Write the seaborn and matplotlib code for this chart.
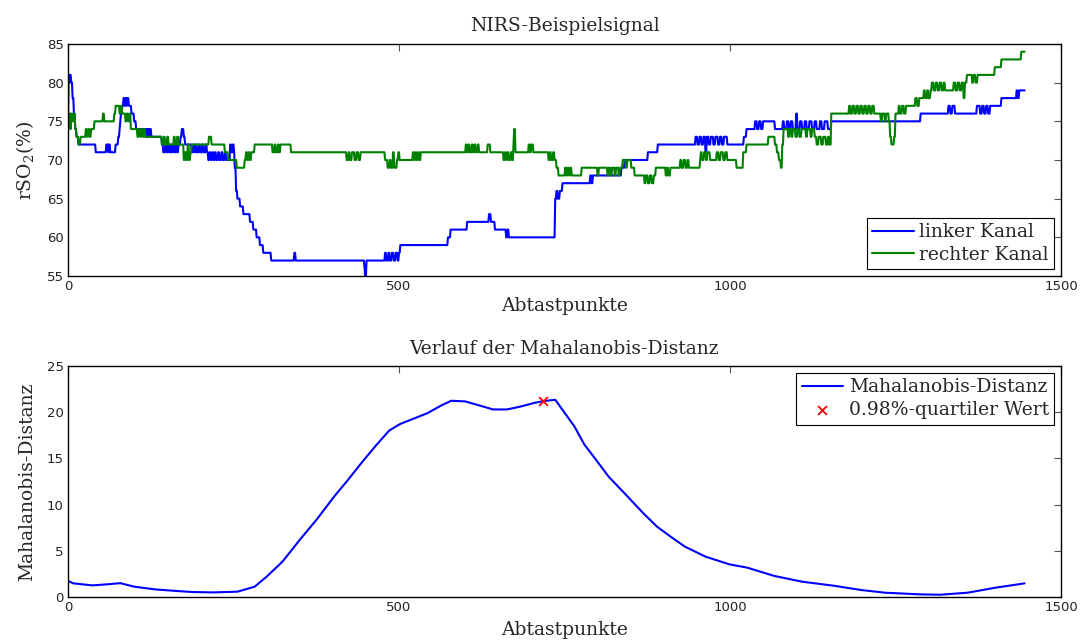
import numpy as np
import matplotlib
matplotlib.use('Agg')
import matplotlib.pyplot as plt
import seaborn as sns

# NIRS signal, read off the plot as runs: (first sample, rSO2 value),
# the value holds until the next run starts
n_samples = 1446

left_runs = [
    (0, 75), (1, 81), (2, 80), (3, 81), (5, 80), (7, 78), (9, 76), (11, 74), (13, 73), (16, 72),
    (42, 71), (58, 72), (61, 71), (62, 72), (64, 71), (72, 72), (76, 73), (78, 74), (79, 75), (80, 76),
    (82, 77), (84, 78), (86, 77), (87, 78), (89, 77), (90, 78), (92, 77), (96, 76), (100, 75), (103, 74),
    (117, 73), (118, 74), (120, 73), (121, 74), (123, 73), (124, 74), (126, 73), (142, 72), (144, 71),
    (147, 72), (149, 71), (151, 72), (153, 71), (155, 72), (157, 71), (159, 72), (161, 71), (163, 72),
    (165, 71), (167, 72), (170, 73), (172, 74), (175, 73), (177, 72), (187, 71), (189, 72), (191, 71),
    (193, 72), (195, 71), (198, 72), (200, 71), (203, 72), (205, 71), (208, 72), (210, 71), (212, 70),
    (214, 71), (216, 70), (218, 71), (220, 70), (222, 71), (224, 70), (227, 71), (229, 70), (232, 71),
    (234, 70), (237, 71), (239, 70), (245, 72), (247, 71), (249, 72), (251, 71), (252, 69), (254, 66),
    (256, 65), (260, 64), (265, 63), (275, 62), (280, 61), (285, 60), (290, 59), (295, 58), (307, 57),
    (342, 58), (344, 57), (448, 56), (449, 55), (451, 57), (479, 58), (481, 57), (484, 58), (486, 57),
    (489, 58), (492, 57), (495, 58), (498, 57), (500, 58), (502, 59), (574, 60), (578, 61), (603, 62),
    (636, 63), (639, 62), (645, 61), (662, 60), (664, 61), (666, 60), (736, 65), (738, 66), (740, 65),
    (743, 66), (747, 67), (789, 68), (791, 67), (793, 68), (836, 69), (841, 70), (876, 71), (891, 72),
    (948, 73), (951, 72), (954, 73), (957, 72), (960, 73), (963, 71), (965, 73), (968, 72), (971, 73),
    (975, 72), (978, 73), (982, 72), (985, 73), (988, 72), (991, 73), (996, 72), (1021, 73), (1025, 74),
    (1038, 75), (1041, 74), (1044, 75), (1047, 74), (1050, 75), (1068, 74), (1080, 75), (1082, 74),
    (1086, 75), (1089, 74), (1092, 75), (1095, 74), (1100, 76), (1102, 74), (1106, 75), (1109, 74),
    (1113, 75), (1116, 74), (1120, 75), (1124, 74), (1128, 75), (1131, 74), (1136, 75), (1139, 74),
    (1143, 75), (1148, 74), (1153, 75), (1288, 76), (1330, 77), (1333, 76), (1336, 77), (1340, 76),
    (1373, 77), (1378, 76), (1381, 77), (1384, 76), (1387, 77), (1390, 76), (1393, 77), (1410, 78),
    (1433, 79), (1435, 78), (1437, 79),
]

right_runs = [
    (0, 75), (1, 74), (2, 76), (4, 74), (5, 76), (7, 75), (9, 76), (11, 74), (13, 73), (16, 72),
    (19, 73), (27, 74), (29, 73), (31, 74), (33, 73), (35, 74), (40, 75), (53, 76), (55, 75), (70, 76),
    (72, 77), (78, 76), (80, 77), (82, 76), (87, 75), (89, 76), (91, 75), (93, 76), (95, 74), (105, 73),
    (107, 74), (109, 73), (111, 74), (113, 73), (115, 74), (117, 73), (142, 72), (145, 73), (147, 72),
    (150, 73), (152, 72), (160, 73), (162, 72), (165, 73), (167, 72), (175, 70), (177, 71), (179, 70),
    (181, 72), (183, 70), (185, 71), (187, 72), (213, 73), (217, 72), (237, 71), (242, 70), (255, 69),
    (267, 70), (269, 71), (271, 70), (273, 71), (275, 70), (277, 71), (282, 72), (309, 71), (312, 72),
    (314, 71), (317, 72), (319, 71), (321, 72), (337, 71), (421, 70), (424, 71), (426, 70), (429, 71),
    (433, 70), (436, 71), (439, 70), (442, 71), (479, 70), (483, 69), (486, 70), (488, 69), (491, 71),
    (493, 69), (497, 70), (499, 71), (501, 70), (521, 71), (523, 70), (525, 71), (527, 70), (529, 71),
    (531, 70), (533, 71), (601, 72), (603, 71), (605, 72), (607, 71), (610, 72), (612, 71), (614, 72),
    (616, 71), (619, 72), (621, 71), (634, 72), (638, 71), (658, 70), (660, 71), (662, 70), (664, 71),
    (666, 70), (669, 71), (671, 70), (673, 72), (674, 74), (676, 71), (696, 72), (698, 71), (700, 72),
    (703, 71), (726, 70), (728, 71), (730, 70), (733, 71), (735, 70), (738, 69), (741, 68), (751, 69),
    (753, 68), (755, 69), (757, 68), (759, 69), (761, 68), (776, 69), (800, 68), (802, 69), (815, 68),
    (817, 69), (820, 68), (822, 69), (826, 68), (828, 69), (832, 68), (834, 69), (838, 70), (843, 69),
    (845, 70), (851, 69), (856, 68), (871, 67), (873, 68), (876, 67), (879, 68), (882, 67), (885, 68),
    (888, 69), (903, 68), (905, 69), (907, 68), (910, 69), (925, 70), (927, 69), (930, 70), (933, 69),
    (936, 70), (938, 69), (955, 70), (956, 71), (958, 70), (961, 71), (964, 70), (966, 71), (970, 70),
    (980, 71), (983, 70), (986, 71), (990, 70), (993, 71), (996, 70), (1010, 69), (1020, 71), (1025, 72),
    (1058, 73), (1068, 72), (1071, 71), (1074, 70), (1077, 69), (1079, 72), (1081, 74), (1088, 73),
    (1090, 74), (1093, 73), (1095, 74), (1099, 73), (1102, 74), (1105, 73), (1108, 74), (1115, 73),
    (1117, 74), (1122, 73), (1124, 74), (1128, 73), (1131, 72), (1134, 73), (1138, 72), (1141, 73),
    (1145, 72), (1148, 73), (1150, 72), (1153, 76), (1180, 77), (1182, 76), (1185, 77), (1188, 76),
    (1191, 77), (1194, 76), (1197, 77), (1200, 76), (1203, 77), (1206, 76), (1209, 77), (1212, 76),
    (1215, 77), (1218, 76), (1228, 75), (1230, 76), (1234, 75), (1236, 76), (1240, 75), (1242, 73),
    (1244, 72), (1248, 73), (1250, 76), (1255, 77), (1257, 76), (1260, 77), (1263, 76), (1266, 77),
    (1280, 78), (1283, 77), (1286, 78), (1293, 79), (1295, 78), (1298, 79), (1300, 78), (1303, 79),
    (1305, 80), (1308, 79), (1311, 80), (1314, 79), (1317, 80), (1320, 79), (1323, 80), (1325, 79),
    (1338, 80), (1341, 79), (1344, 80), (1347, 79), (1350, 80), (1353, 78), (1355, 80), (1358, 81),
    (1366, 80), (1368, 81), (1371, 80), (1374, 81), (1400, 82), (1410, 83), (1440, 84),
]

# Mahalanobis distance, points
mahal_x = [0, 8, 37, 58, 79, 100, 131, 157, 188, 219, 256, 282, 300, 324, 350, 376, 402, 423, 443,
           464, 485, 501, 522, 543, 563, 579, 600, 621, 642, 663, 683, 704, 718, 736, 765, 780, 796,
           817, 843, 869, 890, 911, 932, 963, 999, 1026, 1067, 1109, 1156, 1198, 1234, 1286, 1318,
           1359, 1401, 1445]
mahal_y = [1.75, 1.48, 1.26, 1.37, 1.5, 1.12, 0.83, 0.69, 0.54, 0.5, 0.58, 1.12, 2.2, 3.83, 6.18,
           8.42, 10.87, 12.68, 14.49, 16.3, 18.0, 18.7, 19.3, 19.9, 20.7, 21.24, 21.17, 20.74, 20.3,
           20.3, 20.6, 21.0, 21.2, 21.35, 18.46, 16.5, 15.0, 13.0, 11.05, 9.07, 7.6, 6.5, 5.45, 4.37,
           3.54, 3.18, 2.28, 1.66, 1.23, 0.76, 0.47, 0.29, 0.25, 0.47, 1.01, 1.48]
quantile_x = [718]
quantile_y = [21.2]


def expand(runs, n):
    starts = [r[0] for r in runs] + [n]
    vals = [r[1] for r in runs]
    return np.repeat(vals, np.diff(starts))


left = expand(left_runs, n_samples)
right = expand(right_runs, n_samples)
samples = np.arange(n_samples)

sns.set_theme(style='white')
plt.rcParams['font.family'] = ['DejaVu Serif']
plt.rcParams['mathtext.fontset'] = 'dejavuserif'
plt.rcParams['axes.edgecolor'] = 'black'
plt.rcParams['axes.linewidth'] = 1.0

fig = plt.figure(figsize=(10.81, 6.41), dpi=100)
ax1 = fig.add_axes([0.0629, 0.5694, 0.9186, 0.362])
ax2 = fig.add_axes([0.0629, 0.0686, 0.9186, 0.3604])

sns.lineplot(x=samples, y=left, ax=ax1, color='#0000ff', lw=1.5, estimator=None, sort=False,
             label='linker Kanal')
sns.lineplot(x=samples, y=right, ax=ax1, color='#008000', lw=1.5, estimator=None, sort=False,
             label='rechter Kanal')
ax1.set_xlim(0, 1500)
ax1.set_ylim(55, 85)
ax1.set_xticks([0, 500, 1000, 1500])
ax1.set_yticks([55, 60, 65, 70, 75, 80, 85])
ax1.set_title('NIRS-Beispielsignal', fontsize=13.5, pad=9)
ax1.set_xlabel('Abtastpunkte', fontsize=13.5, labelpad=3)
ax1.set_ylabel('rSO$_2$(%)', fontsize=13.5, labelpad=8)

sns.lineplot(x=mahal_x, y=mahal_y, ax=ax2, color='#0000ff', lw=1.5, estimator=None, sort=False,
             label='Mahalanobis-Distanz')
sns.scatterplot(x=quantile_x, y=quantile_y, ax=ax2, color='red', marker='x', s=40, linewidth=1.3,
                label='0.98%-quartiler Wert', zorder=5)
ax2.set_xlim(0, 1500)
ax2.set_ylim(0, 25)
ax2.set_xticks([0, 500, 1000, 1500])
ax2.set_yticks([0, 5, 10, 15, 20, 25])
ax2.set_title('Verlauf der Mahalanobis-Distanz', fontsize=13.5, pad=9)
ax2.set_xlabel('Abtastpunkte', fontsize=13.5, labelpad=5)
ax2.set_ylabel('Mahalanobis-Distanz', fontsize=13.5, labelpad=8)

for ax, loc in [(ax1, 'lower right'), (ax2, 'upper right')]:
    ax.tick_params(direction='in', top=True, right=True, length=5, width=0.8, color='#555555',
                   labelsize=9.5, labelcolor='#222222', pad=3)
    for lab in ax.get_xticklabels() + ax.get_yticklabels():
        lab.set_family('DejaVu Sans')
    for sp in ax.spines.values():
        sp.set_visible(True)
        sp.set_color('black')
    leg = ax.legend(loc=loc, fontsize=13.5, fancybox=False, framealpha=1, edgecolor='black',
                    borderaxespad=0.35, borderpad=0.3, labelspacing=0.25, handlelength=2.2,
                    handletextpad=0.3)
    leg.get_frame().set_linewidth(0.8)

fig.savefig('out.png', dpi=100)
